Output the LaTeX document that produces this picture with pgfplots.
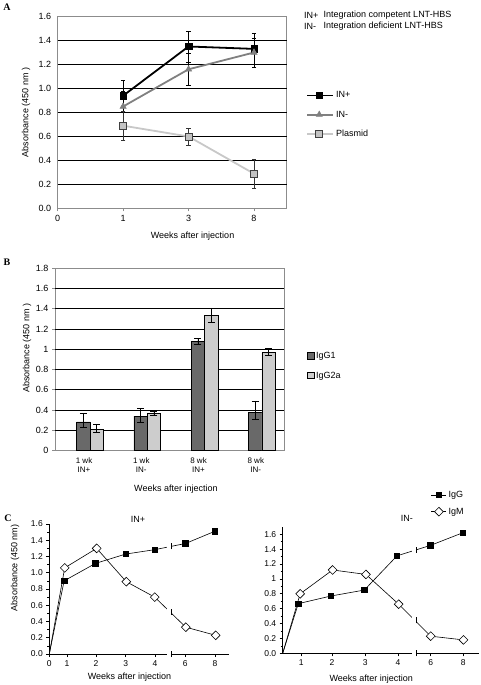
\documentclass[border=0pt]{standalone}
\usepackage{pgfplots}
\pgfplotsset{compat=1.18}
\usepackage{fontspec}
\setmainfont{Liberation Sans}
\newfontfamily\serifb{Liberation Serif}
\definecolor{boxgray}{RGB}{140,140,140}
\definecolor{midgray}{RGB}{128,128,128}
\definecolor{plasline}{RGB}{200,200,200}
\definecolor{plasfill}{RGB}{195,195,195}
\definecolor{darkbar}{RGB}{105,105,105}
\definecolor{lightbar}{RGB}{205,205,205}

\pgfplotsset{
 every axis/.append style={
  scale only axis,
  /pgf/number format/assume math mode=true,
  tick label style={font=\fontsize{9}{10}\selectfont},
  label style={font=\fontsize{9}{10}\selectfont},
  title style={font=\fontsize{9}{10}\selectfont},
  legend style={font=\fontsize{9}{10}\selectfont},
 },
}

\begin{document}
\begin{tikzpicture}
\useasboundingbox (0pt,0pt) rectangle (481pt,685pt);

% ---------------- Panel A ----------------
\begin{axis}[
 at={(57.7pt,476.5pt)}, anchor=south west,
 width=229pt, height=192pt,
 xmin=0, xmax=3.5, ymin=0, ymax=1.6,
 xtick={0,1,2,3}, xticklabels={0,1,3,8},
 ytick={0,0.2,0.4,0.6,0.8,1.0,1.2,1.4,1.6},
 yticklabel style={/pgf/number format/.cd, fixed, fixed zerofill, precision=1},
 extra y ticks={0.2,0.4,0.6,0.8,1.0,1.2,1.4}, extra y tick labels={},
 extra y tick style={grid=major, ytick style={draw=none}},
 major grid style={black, line width=0.7pt},
 axis line style={boxgray, line width=0.8pt},
 xtick pos=left, ytick pos=left,
 tick align=outside, major tick length=3pt,
 xtick style={boxgray, line width=0.6pt},
 ytick style={draw=none},
 xlabel={Weeks after injection},
 xlabel style={at={(axis description cs:0.589,-0.143)}, anchor=center},
 ylabel={Absorbance (450 nm )},
 ylabel style={at={(axis description cs:-0.138,0.5)}, anchor=center},
 legend style={draw=none, fill=none, at={(1.085,0.62)}, anchor=north west,
   row sep=7.5pt, inner sep=0pt, legend cell align=left},
 legend image code/.code={\draw[#1, mark indices={2}] plot coordinates {(0pt,0pt) (12pt,0pt) (26pt,0pt)};},
]
\addplot[black, line width=1.8pt, mark=square*, mark size=3.2pt,
  mark options={solid, fill=black, line width=0.5pt},
  error bars/.cd, y dir=both, y explicit,
  error bar style={black, line width=0.6pt},
  error mark options={black, mark size=2.2pt, line width=0.6pt, rotate=90}]
 coordinates {(1,0.94) +- (0,0.13) (2,1.35) +- (0,0.13) (3,1.33) +- (0,0.13)};
\addlegendentry{IN+}
\addplot[midgray, line width=1.8pt, mark=triangle*, mark size=3.6pt,
  mark options={solid, fill=midgray, draw=midgray, line width=0.5pt},
  error bars/.cd, y dir=both, y explicit,
  error bar style={black, line width=0.6pt},
  error mark options={black, mark size=2.2pt, line width=0.6pt, rotate=90}]
 coordinates {(1,0.85) +- (0,0.13) (2,1.16) +- (0,0.13) (3,1.30) +- (0,0.12)};
\addlegendentry{IN-}
\addplot[plasline, line width=1.8pt, mark=square*, mark size=3.5pt,
  mark options={solid, fill=plasfill, draw=black!75, line width=0.6pt},
  error bars/.cd, y dir=both, y explicit,
  error bar style={black!80, line width=0.6pt},
  error mark options={black!80, mark size=2.2pt, line width=0.6pt, rotate=90}]
 coordinates {(1,0.69) +- (0,0.12) (2,0.60) +- (0,0.07) (3,0.29) +- (0,0.12)};
\addlegendentry{Plasmid}
\end{axis}

\node[anchor=west, inner sep=0pt, font=\fontsize{9}{10}\selectfont] at (304pt,670pt) {IN+};
\node[anchor=west, inner sep=0pt, font=\fontsize{9}{10}\selectfont] at (323.5pt,670pt) {Integration competent LNT-HBS};
\node[anchor=west, inner sep=0pt, font=\fontsize{9}{10}\selectfont] at (304pt,659pt) {IN-};
\node[anchor=west, inner sep=0pt, font=\fontsize{9}{10}\selectfont] at (323.5pt,659pt) {Integration deficient LNT-HBS};

% ---------------- Panel B ----------------
\begin{axis}[
 at={(55pt,234.3pt)}, anchor=south west,
 width=229pt, height=182.7pt,
 xmin=-0.612, xmax=3.388, ymin=0, ymax=1.8,
 ybar=0pt, bar width=13.3pt,
 xtick={0,1,2,3},
 xticklabels={{1 wk\\IN+},{1 wk\\IN-},{8 wk\\IN+},{8 wk\\IN-}},
 xticklabel style={align=center, xshift=-6pt, font=\fontsize{8}{9.5}\selectfont},
 ytick={0,0.2,0.4,0.6,0.8,1,1.2,1.4,1.6,1.8},
 yticklabels={0,0.2,0.4,0.6,0.8,1,1.2,1.4,1.6,1.8},
 extra y ticks={0.2,0.4,0.6,0.8,1.0,1.2,1.4,1.6}, extra y tick labels={},
 extra y tick style={grid=major},
 major grid style={black, line width=0.7pt},
 axis line style={boxgray, line width=0.8pt},
 xtick pos=left, ytick pos=left,
 tick align=outside, major tick length=3pt,
 xtick style={draw=none},
 ytick style={boxgray, line width=0.6pt},
 xlabel={Weeks after injection},
 xlabel style={at={(axis description cs:0.528,-0.21)}, anchor=center},
 ylabel={Absorbance (450 nm )},
 ylabel style={at={(axis description cs:-0.122,0.562)}, anchor=center},
 legend style={draw=none, fill=none, at={(1.1,0.552)}, anchor=north west,
   row sep=8pt, inner sep=0pt, legend cell align=left},
 legend image code/.code={\draw[#1, draw=black, line width=0.5pt] (0pt,-3pt) rectangle (6.5pt,3.5pt);},
]
\addplot[fill=darkbar, draw=black, line width=0.5pt,
  error bars/.cd, y dir=both, y explicit,
  error bar style={black, line width=0.7pt},
  error mark options={black, mark size=3.5pt, line width=0.7pt, rotate=90}]
 coordinates {(0,0.285) += (0,0.08) -= (0,0.055)
              (1,0.34) += (0,0.075) -= (0,0.06)
              (2,1.08) +- (0,0.03)
              (3,0.378) += (0,0.112) -= (0,0.068)};
\addlegendentry{IgG1}
\addplot[fill=lightbar, draw=black, line width=0.5pt,
  error bars/.cd, y dir=both, y explicit,
  error bar style={black, line width=0.7pt},
  error mark options={black, mark size=3.5pt, line width=0.7pt, rotate=90}]
 coordinates {(0,0.21) += (0,0.045) -= (0,0.027)
              (1,0.368) +- (0,0.022)
              (2,1.335) += (0,0.072) -= (0,0.07)
              (3,0.965) += (0,0.04) -= (0,0.03)};
\addlegendentry{IgG2a}
\end{axis}

% ---------------- Panel C left ----------------
\begin{axis}[
 at={(49.3pt,31pt)}, anchor=south west,
 width=179.7pt, height=130pt,
 xmin=0, xmax=6.07, ymin=0, ymax=1.6,
 axis x line*=bottom, axis y line*=left,
 axis line style={black, line width=0.6pt},
 xtick={0,0.6,1.58,2.58,3.57,4.59,5.6}, xticklabels={0,1,2,3,4,6,8},
 ytick={0,0.2,0.4,0.6,0.8,1.0,1.2,1.4,1.6},
 yticklabel style={/pgf/number format/.cd, fixed, fixed zerofill, precision=1},
 tick label style={font=\fontsize{8.5}{10}\selectfont},
 minor y tick num=1,
 tick align=outside, major tick length=3pt, minor tick length=2pt,
 tick style={black, line width=0.6pt},
 title={IN+},
 title style={at={(axis description cs:0.494,0.992)}, anchor=center},
 xlabel={Weeks after injection},
 xlabel style={at={(axis description cs:0.446,-0.182)}, anchor=center},
 ylabel={Absorbance (450 nm)},
 ylabel style={at={(axis description cs:-0.191,0.66)}, anchor=center},
 after end axis/.code={
   \fill[white] (axis cs:3.97,-0.04) rectangle (axis cs:4.11,1.62);
   \draw[black, line width=0.6pt] (axis cs:4.11,0) ++(0pt,-3pt) -- ++(0pt,6pt);
   \draw[black, line width=0.6pt] (axis cs:4.11,1.326) ++(0pt,-3pt) -- ++(0pt,6pt);
   \draw[black, line width=0.6pt] (axis cs:4.11,0.51) ++(0pt,-2pt) -- ++(0pt,6pt);
 },
]
\addplot[black, line width=0.6pt, mark=square*, mark size=2.7pt,
  mark options={fill=black}, mark indices={2,3,4,5,6,7}]
 coordinates {(0,0) (0.50,0.90) (1.56,1.115) (2.58,1.23) (3.56,1.284) (4.60,1.36) (5.59,1.51)};
\addplot[black, line width=0.6pt, mark=square*, mark size=3.1pt,
  mark options={fill=white, rotate=45}, mark indices={2,3,4,5,6,7}]
 coordinates {(0,0) (0.52,1.06) (1.60,1.30) (2.60,0.89) (3.56,0.70) (4.61,0.33) (5.62,0.23)};
\end{axis}

% ---------------- Panel C right ----------------
\begin{axis}[
 at={(282.7pt,31.7pt)}, anchor=south west,
 width=196.3pt, height=126.5pt,
 xmin=0, xmax=6.06, ymin=0, ymax=1.7,
 axis x line*=bottom, axis y line*=left,
 axis line style={black, line width=0.6pt},
 xtick={0.57,1.52,2.55,3.56,4.57,5.57}, xticklabels={1,2,3,4,6,8},
 ytick={0,0.2,0.4,0.6,0.8,1,1.2,1.4,1.6},
 yticklabels={0.0,0.2,0.4,0.6,0.8,1,1.2,1.4,1.6},
 tick label style={font=\fontsize{8.5}{10}\selectfont},
 minor y tick num=1,
 tick align=outside, major tick length=3pt, minor tick length=2pt,
 tick style={black, line width=0.6pt},
 title={IN-},
 title style={at={(axis description cs:0.632,1.017)}, anchor=center},
 xlabel={Weeks after injection},
 xlabel style={at={(axis description cs:0.451,-0.203)}, anchor=center},
 legend style={draw=none, fill=none, at={(0.755,1.30)}, anchor=north west,
   row sep=5pt, inner sep=0pt, legend cell align=left},
 legend image code/.code={\draw[#1, mark indices={2}] plot coordinates {(0pt,0pt) (7.5pt,0pt) (15pt,0pt)};},
 after end axis/.code={
   \fill[white] (axis cs:3.98,-0.04) rectangle (axis cs:4.11,1.72);
   \draw[black, line width=0.6pt] (axis cs:4.11,0) ++(0pt,-3pt) -- ++(0pt,6pt);
   \draw[black, line width=0.6pt] (axis cs:4.11,1.389) ++(0pt,-3pt) -- ++(0pt,6pt);
   \draw[black, line width=0.6pt] (axis cs:4.11,0.43) ++(0pt,-2pt) -- ++(0pt,6pt);
 },
]
\addplot[black, line width=0.6pt, mark=square*, mark size=2.7pt,
  mark options={fill=black}, mark indices={2,3,4,5,6,7}]
 coordinates {(0,0) (0.48,0.667) (1.49,0.77) (2.52,0.85) (3.53,1.31) (4.56,1.45) (5.56,1.62)};
\addlegendentry{IgG}
\addplot[black, line width=0.6pt, mark=square*, mark size=3.1pt,
  mark options={fill=white, rotate=45}, mark indices={2,3,4,5,6,7}]
 coordinates {(0,0) (0.54,0.80) (1.54,1.12) (2.57,1.06) (3.58,0.66) (4.57,0.23) (5.58,0.18)};
\addlegendentry{IgM}
\end{axis}

% panel letters
\node[inner sep=0pt, font=\serifb\bfseries\fontsize{10}{12}\selectfont] at (7pt,678pt) {A};
\node[inner sep=0pt, font=\serifb\bfseries\fontsize{10}{12}\selectfont] at (7pt,423pt) {B};
\node[inner sep=0pt, font=\serifb\bfseries\fontsize{10}{12}\selectfont] at (8pt,167pt) {C};
\end{tikzpicture}
\end{document}
